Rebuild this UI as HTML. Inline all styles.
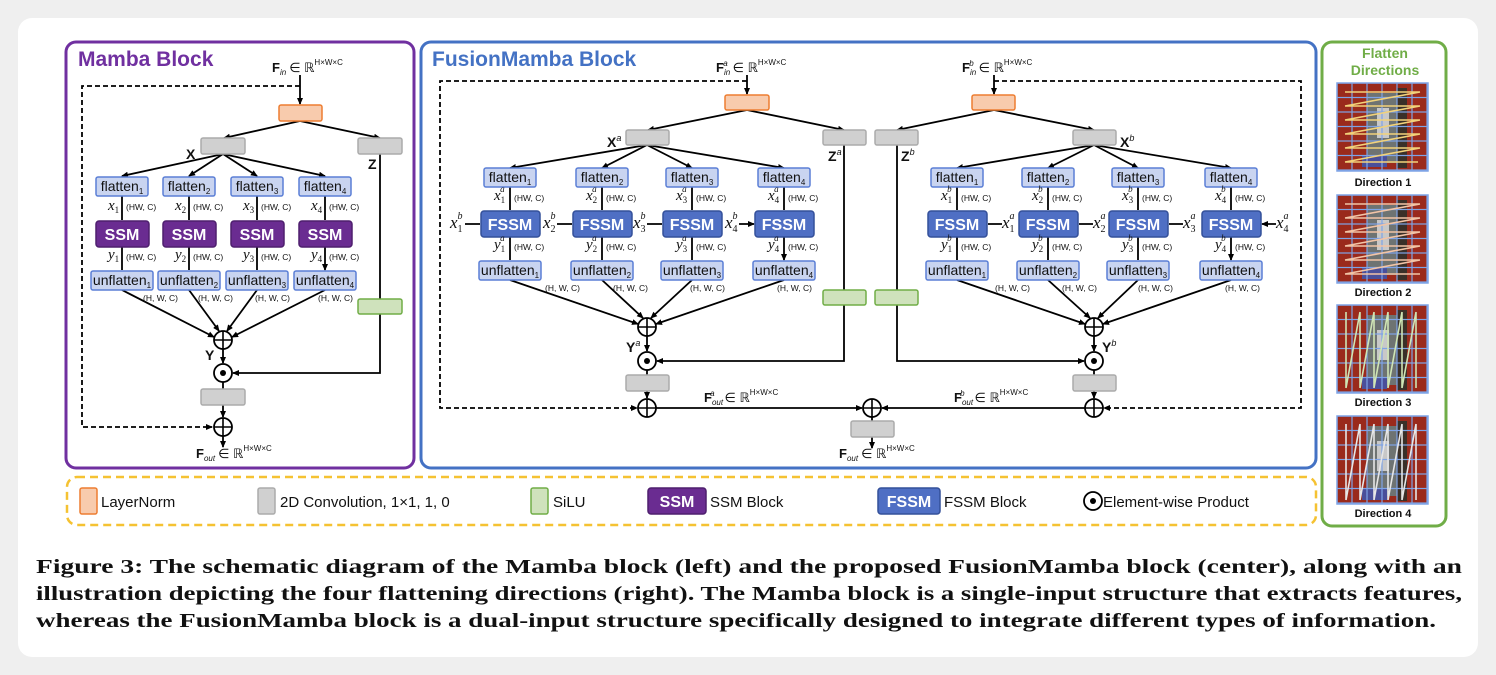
<!DOCTYPE html>
<html><head><meta charset="utf-8"><style>
html,body{margin:0;padding:0;background:#efefef;}
svg{display:block;}
.t{font-family:"Liberation Sans",sans-serif;}
.s{font-family:"Liberation Serif",serif;}
</style></head><body>
<svg width="1496" height="675" viewBox="0 0 1496 675" xmlns="http://www.w3.org/2000/svg">
<defs>
<marker id="a" markerWidth="8" markerHeight="8" refX="6" refY="3" orient="auto" markerUnits="userSpaceOnUse"><path d="M0,0 L7,3 L0,6 z" fill="#000"/></marker>
<g id="plus"><circle r="9" fill="#fff" stroke="#000" stroke-width="1.8"/><path d="M-9,0H9M0,-9V9" stroke="#000" stroke-width="1.6"/></g>
<g id="dot"><circle r="9" fill="#fff" stroke="#000" stroke-width="1.8"/><circle r="3" fill="#000"/></g>
<pattern id="grid" width="15" height="14.5" patternUnits="userSpaceOnUse"><rect width="15" height="14.5" fill="none" stroke="#7ea3e6" stroke-width="1.2"/></pattern>
<g id="img"><rect width="91" height="88" fill="#9a2a1c"/><rect x="30" y="10" width="30" height="70" fill="#6e7372"/><rect x="40" y="25" width="12" height="30" fill="#c8c8c8"/><rect x="25" y="72" width="25" height="12" fill="#4a4f9a"/><rect x="60" y="5" width="10" height="80" fill="#3a3028"/><rect width="91" height="88" fill="url(#grid)"/><rect width="91" height="88" fill="none" stroke="#7ea3e6" stroke-width="1.5"/></g>
</defs>
<rect x="18" y="18" width="1460" height="639" rx="14" fill="#fff"/>

<!-- panels -->
<rect x="66" y="42" width="348" height="426" rx="10" fill="none" stroke="#7030a0" stroke-width="3"/>
<rect x="421" y="42" width="895" height="426" rx="10" fill="none" stroke="#4472c4" stroke-width="3"/>
<rect x="1322" y="42" width="124" height="484" rx="10" fill="none" stroke="#70ad47" stroke-width="3"/>
<rect x="67" y="477" width="1249" height="48" rx="10" fill="none" stroke="#f5c232" stroke-width="2.5" stroke-dasharray="8,5"/>

<text x="78" y="66" class="t" font-size="21" font-weight="bold" fill="#7030a0">Mamba Block</text>
<text x="432" y="66" class="t" font-size="21" font-weight="bold" fill="#4472c4">FusionMamba Block</text>

<g stroke="#000" stroke-width="1.8" fill="none">
<!-- ===== Mamba ===== -->
<path d="M300,75V104" marker-end="url(#a)"/>
<path d="M300,86H82V427H212" stroke-dasharray="5,3" marker-end="url(#a)"/>
<path d="M300,121L224,138" marker-end="url(#a)"/><path d="M300,121L380,138" marker-end="url(#a)"/>
<path d="M223,154L122,176" marker-end="url(#a)"/><path d="M223,154L189,176" marker-end="url(#a)"/><path d="M223,154L257,176" marker-end="url(#a)"/><path d="M223,154L325,176" marker-end="url(#a)"/>
<path d="M122,196V220M189,196V220M257,196V220M325,196V220M122,247V270M189,247V270M257,247V270M325,247V270" marker-end="url(#a)"/>
<path d="M122,290L214,337" marker-end="url(#a)"/><path d="M189,290L219,331" marker-end="url(#a)"/><path d="M257,290L227,331" marker-end="url(#a)"/><path d="M325,290L232,337" marker-end="url(#a)"/>
<path d="M223,349V363" marker-end="url(#a)"/>
<path d="M380,154V373H233" marker-end="url(#a)"/>
<path d="M223,382V389M223,405V417" marker-end="url(#a)"/>
<path d="M223,436V447" marker-end="url(#a)"/>

<!-- ===== Fusion left ===== -->
<path d="M747,75V94" marker-end="url(#a)"/>
<path d="M747,81H440V408H637" stroke-dasharray="5,3" marker-end="url(#a)"/>
<path d="M747,110L648,130" marker-end="url(#a)"/><path d="M747,110L844,130" marker-end="url(#a)"/>
<path d="M647,145L510,168" marker-end="url(#a)"/><path d="M647,145L602,168" marker-end="url(#a)"/><path d="M647,145L692,168" marker-end="url(#a)"/><path d="M647,145L784,168" marker-end="url(#a)"/>
<path d="M510,187V210M602,187V210M692,187V210M784,187V210M510,237V260M602,237V260M692,237V260M784,237V260" marker-end="url(#a)"/>
<path d="M465,224H480M557,224H572M647,224H662M739,224H754" marker-end="url(#a)"/>
<path d="M510,280L638,324" marker-end="url(#a)"/><path d="M602,280L643,318" marker-end="url(#a)"/><path d="M692,280L651,318" marker-end="url(#a)"/><path d="M784,280L656,324" marker-end="url(#a)"/>
<path d="M647,336V351" marker-end="url(#a)"/>
<path d="M844,145V361H657" marker-end="url(#a)"/>
<path d="M647,370V375M647,391V398" marker-end="url(#a)"/>
<path d="M656,408H862" marker-end="url(#a)"/>
<path d="M872,417V421M872,437V448" marker-end="url(#a)"/>

<!-- ===== Fusion right ===== -->
<path d="M994,75V94" marker-end="url(#a)"/>
<path d="M994,81H1301V408H1104" stroke-dasharray="5,3" marker-end="url(#a)"/>
<path d="M994,110L897,130" marker-end="url(#a)"/><path d="M994,110L1094,130" marker-end="url(#a)"/>
<path d="M1094,145L957,168" marker-end="url(#a)"/><path d="M1094,145L1048,168" marker-end="url(#a)"/><path d="M1094,145L1138,168" marker-end="url(#a)"/><path d="M1094,145L1231,168" marker-end="url(#a)"/>
<path d="M957,187V210M1048,187V210M1138,187V210M1231,187V210M957,237V260M1048,237V260M1138,237V260M1231,237V260" marker-end="url(#a)"/>
<path d="M1002,224H988M1093,224H1079M1183,224H1169M1276,224H1262" marker-end="url(#a)"/>
<path d="M957,280L1085,324" marker-end="url(#a)"/><path d="M1048,280L1090,318" marker-end="url(#a)"/><path d="M1138,280L1098,318" marker-end="url(#a)"/><path d="M1231,280L1103,324" marker-end="url(#a)"/>
<path d="M1094,336V351" marker-end="url(#a)"/>
<path d="M897,145V361H1084" marker-end="url(#a)"/>
<path d="M1094,370V375M1094,391V398" marker-end="url(#a)"/>
<path d="M1085,408H882" marker-end="url(#a)"/>
</g>

<!-- boxes -->
<g stroke-width="1.5">
<g fill="#f8cbad" stroke="#ed7d31"><rect x="279" y="105" width="43" height="16" rx="2"/><rect x="725" y="95" width="44" height="15" rx="2"/><rect x="972" y="95" width="43" height="15" rx="2"/><rect x="80" y="488" width="17" height="26" rx="2"/></g>
<g fill="#d0d0d0" stroke="#ababab"><rect x="201" y="138" width="44" height="16" rx="2"/><rect x="358" y="138" width="44" height="16" rx="2"/><rect x="201" y="389" width="44" height="16" rx="2"/>
<rect x="626" y="130" width="43" height="15" rx="2"/><rect x="823" y="130" width="43" height="15" rx="2"/><rect x="626" y="375" width="43" height="16" rx="2"/><rect x="851" y="421" width="43" height="16" rx="2"/>
<rect x="875" y="130" width="43" height="15" rx="2"/><rect x="1073" y="130" width="43" height="15" rx="2"/><rect x="1073" y="375" width="43" height="16" rx="2"/><rect x="258" y="488" width="17" height="26" rx="2"/></g>
<g fill="#cfe2bc" stroke="#70ad47"><rect x="358" y="299" width="44" height="15" rx="2"/><rect x="823" y="290" width="43" height="15" rx="2"/><rect x="875" y="290" width="43" height="15" rx="2"/><rect x="531" y="488" width="17" height="26" rx="2"/></g>
<g fill="#c9d4f0" stroke="#5b7fd6">
<rect x="96" y="177" width="52" height="19" rx="2"/><rect x="163" y="177" width="52" height="19" rx="2"/><rect x="231" y="177" width="52" height="19" rx="2"/><rect x="299" y="177" width="52" height="19" rx="2"/>
<rect x="91" y="271" width="62" height="19" rx="2"/><rect x="158" y="271" width="62" height="19" rx="2"/><rect x="226" y="271" width="62" height="19" rx="2"/><rect x="294" y="271" width="62" height="19" rx="2"/>
<rect x="484" y="168" width="52" height="19" rx="2"/><rect x="576" y="168" width="52" height="19" rx="2"/><rect x="666" y="168" width="52" height="19" rx="2"/><rect x="758" y="168" width="52" height="19" rx="2"/>
<rect x="479" y="261" width="62" height="19" rx="2"/><rect x="571" y="261" width="62" height="19" rx="2"/><rect x="661" y="261" width="62" height="19" rx="2"/><rect x="753" y="261" width="62" height="19" rx="2"/>
<rect x="931" y="168" width="52" height="19" rx="2"/><rect x="1022" y="168" width="52" height="19" rx="2"/><rect x="1112" y="168" width="52" height="19" rx="2"/><rect x="1205" y="168" width="52" height="19" rx="2"/>
<rect x="926" y="261" width="62" height="19" rx="2"/><rect x="1017" y="261" width="62" height="19" rx="2"/><rect x="1107" y="261" width="62" height="19" rx="2"/><rect x="1200" y="261" width="62" height="19" rx="2"/>
</g>
<g fill="#6a2c91" stroke="#4e1f6e"><rect x="96" y="221" width="53" height="26" rx="3"/><rect x="163" y="221" width="53" height="26" rx="3"/><rect x="231" y="221" width="53" height="26" rx="3"/><rect x="299" y="221" width="53" height="26" rx="3"/><rect x="648" y="488" width="58" height="26" rx="3"/></g>
<g fill="#4f6fc4" stroke="#34509a"><rect x="481" y="211" width="59" height="26" rx="3"/><rect x="573" y="211" width="59" height="26" rx="3"/><rect x="663" y="211" width="59" height="26" rx="3"/><rect x="755" y="211" width="59" height="26" rx="3"/>
<rect x="928" y="211" width="59" height="26" rx="3"/><rect x="1019" y="211" width="59" height="26" rx="3"/><rect x="1109" y="211" width="59" height="26" rx="3"/><rect x="1202" y="211" width="59" height="26" rx="3"/><rect x="878" y="488" width="62" height="26" rx="3"/></g>
</g>

<use href="#plus" x="223" y="340"/><use href="#dot" x="223" y="373"/><use href="#plus" x="223" y="427"/>
<use href="#plus" x="647" y="327"/><use href="#dot" x="647" y="361"/><use href="#plus" x="647" y="408"/>
<use href="#plus" x="1094" y="327"/><use href="#dot" x="1094" y="361"/><use href="#plus" x="1094" y="408"/>
<use href="#plus" x="872" y="408"/>
<use href="#dot" x="1093" y="501"/>

<!-- box texts -->
<g class="t" font-size="14" text-anchor="middle" fill="#111">
<text x="122" y="191">flatten<tspan font-size="8" dy="3">1</tspan></text><text x="189" y="191">flatten<tspan font-size="8" dy="3">2</tspan></text><text x="257" y="191">flatten<tspan font-size="8" dy="3">3</tspan></text><text x="325" y="191">flatten<tspan font-size="8" dy="3">4</tspan></text>
<text x="122" y="285">unflatten<tspan font-size="8" dy="3">1</tspan></text><text x="189" y="285">unflatten<tspan font-size="8" dy="3">2</tspan></text><text x="257" y="285">unflatten<tspan font-size="8" dy="3">3</tspan></text><text x="325" y="285">unflatten<tspan font-size="8" dy="3">4</tspan></text>
<text x="510" y="182">flatten<tspan font-size="8" dy="3">1</tspan></text><text x="602" y="182">flatten<tspan font-size="8" dy="3">2</tspan></text><text x="692" y="182">flatten<tspan font-size="8" dy="3">3</tspan></text><text x="784" y="182">flatten<tspan font-size="8" dy="3">4</tspan></text>
<text x="510" y="275">unflatten<tspan font-size="8" dy="3">1</tspan></text><text x="602" y="275">unflatten<tspan font-size="8" dy="3">2</tspan></text><text x="692" y="275">unflatten<tspan font-size="8" dy="3">3</tspan></text><text x="784" y="275">unflatten<tspan font-size="8" dy="3">4</tspan></text>
<text x="957" y="182">flatten<tspan font-size="8" dy="3">1</tspan></text><text x="1048" y="182">flatten<tspan font-size="8" dy="3">2</tspan></text><text x="1138" y="182">flatten<tspan font-size="8" dy="3">3</tspan></text><text x="1231" y="182">flatten<tspan font-size="8" dy="3">4</tspan></text>
<text x="957" y="275">unflatten<tspan font-size="8" dy="3">1</tspan></text><text x="1048" y="275">unflatten<tspan font-size="8" dy="3">2</tspan></text><text x="1138" y="275">unflatten<tspan font-size="8" dy="3">3</tspan></text><text x="1231" y="275">unflatten<tspan font-size="8" dy="3">4</tspan></text>
</g>
<g class="t" font-size="16" font-weight="bold" text-anchor="middle" fill="#fff">
<text x="122" y="240">SSM</text><text x="189" y="240">SSM</text><text x="257" y="240">SSM</text><text x="325" y="240">SSM</text><text x="677" y="507">SSM</text>
<text x="510" y="230">FSSM</text><text x="602" y="230">FSSM</text><text x="692" y="230">FSSM</text><text x="784" y="230">FSSM</text>
<text x="957" y="230">FSSM</text><text x="1048" y="230">FSSM</text><text x="1138" y="230">FSSM</text><text x="1231" y="230">FSSM</text><text x="909" y="507">FSSM</text>
</g>

<!-- small labels -->
<g class="t" font-size="8.5" fill="#111">
<text x="126" y="210">(HW, C)</text><text x="193" y="210">(HW, C)</text><text x="261" y="210">(HW, C)</text><text x="329" y="210">(HW, C)</text>
<text x="126" y="260">(HW, C)</text><text x="193" y="260">(HW, C)</text><text x="261" y="260">(HW, C)</text><text x="329" y="260">(HW, C)</text>
<text x="143" y="301">(H, W, C)</text><text x="198" y="301">(H, W, C)</text><text x="255" y="301">(H, W, C)</text><text x="318" y="301">(H, W, C)</text>
<text x="514" y="201">(HW, C)</text><text x="606" y="201">(HW, C)</text><text x="696" y="201">(HW, C)</text><text x="788" y="201">(HW, C)</text>
<text x="514" y="250">(HW, C)</text><text x="606" y="250">(HW, C)</text><text x="696" y="250">(HW, C)</text><text x="788" y="250">(HW, C)</text>
<text x="545" y="291">(H, W, C)</text><text x="613" y="291">(H, W, C)</text><text x="690" y="291">(H, W, C)</text><text x="777" y="291">(H, W, C)</text>
<text x="961" y="201">(HW, C)</text><text x="1052" y="201">(HW, C)</text><text x="1142" y="201">(HW, C)</text><text x="1235" y="201">(HW, C)</text>
<text x="961" y="250">(HW, C)</text><text x="1052" y="250">(HW, C)</text><text x="1142" y="250">(HW, C)</text><text x="1235" y="250">(HW, C)</text>
<text x="995" y="291">(H, W, C)</text><text x="1062" y="291">(H, W, C)</text><text x="1138" y="291">(H, W, C)</text><text x="1225" y="291">(H, W, C)</text>
</g>

<!-- italic math labels -->
<g class="s" font-size="15" font-style="italic" fill="#111">
<text x="108" y="210">x<tspan font-size="9" font-style="normal" dy="3">1</tspan></text><text x="175" y="210">x<tspan font-size="9" font-style="normal" dy="3">2</tspan></text><text x="243" y="210">x<tspan font-size="9" font-style="normal" dy="3">3</tspan></text><text x="311" y="210">x<tspan font-size="9" font-style="normal" dy="3">4</tspan></text>
<text x="108" y="259">y<tspan font-size="9" font-style="normal" dy="3">1</tspan></text><text x="175" y="259">y<tspan font-size="9" font-style="normal" dy="3">2</tspan></text><text x="243" y="259">y<tspan font-size="9" font-style="normal" dy="3">3</tspan></text><text x="311" y="259">y<tspan font-size="9" font-style="normal" dy="3">4</tspan></text>
<!-- fusion left xa, ya -->
<text x="494" y="200">x<tspan font-size="9" font-style="normal" dy="3">1</tspan><tspan font-size="9" dx="-5" dy="-11">a</tspan></text>
<text x="586" y="200">x<tspan font-size="9" font-style="normal" dy="3">2</tspan><tspan font-size="9" dx="-5" dy="-11">a</tspan></text>
<text x="676" y="200">x<tspan font-size="9" font-style="normal" dy="3">3</tspan><tspan font-size="9" dx="-5" dy="-11">a</tspan></text>
<text x="768" y="200">x<tspan font-size="9" font-style="normal" dy="3">4</tspan><tspan font-size="9" dx="-5" dy="-11">a</tspan></text>
<text x="494" y="249">y<tspan font-size="9" font-style="normal" dy="3">1</tspan><tspan font-size="9" dx="-5" dy="-11">a</tspan></text>
<text x="586" y="249">y<tspan font-size="9" font-style="normal" dy="3">2</tspan><tspan font-size="9" dx="-5" dy="-11">a</tspan></text>
<text x="676" y="249">y<tspan font-size="9" font-style="normal" dy="3">3</tspan><tspan font-size="9" dx="-5" dy="-11">a</tspan></text>
<text x="768" y="249">y<tspan font-size="9" font-style="normal" dy="3">4</tspan><tspan font-size="9" dx="-5" dy="-11">a</tspan></text>
<text x="450" y="228" font-size="17">x<tspan font-size="10" font-style="normal" dy="4">1</tspan><tspan font-size="10" dx="-5" dy="-13">b</tspan></text>
<text x="543" y="228" font-size="17">x<tspan font-size="10" font-style="normal" dy="4">2</tspan><tspan font-size="10" dx="-5" dy="-13">b</tspan></text>
<text x="633" y="228" font-size="17">x<tspan font-size="10" font-style="normal" dy="4">3</tspan><tspan font-size="10" dx="-5" dy="-13">b</tspan></text>
<text x="725" y="228" font-size="17">x<tspan font-size="10" font-style="normal" dy="4">4</tspan><tspan font-size="10" dx="-5" dy="-13">b</tspan></text>
<!-- fusion right -->
<text x="941" y="200">x<tspan font-size="9" font-style="normal" dy="3">1</tspan><tspan font-size="9" dx="-5" dy="-11">b</tspan></text>
<text x="1032" y="200">x<tspan font-size="9" font-style="normal" dy="3">2</tspan><tspan font-size="9" dx="-5" dy="-11">b</tspan></text>
<text x="1122" y="200">x<tspan font-size="9" font-style="normal" dy="3">3</tspan><tspan font-size="9" dx="-5" dy="-11">b</tspan></text>
<text x="1215" y="200">x<tspan font-size="9" font-style="normal" dy="3">4</tspan><tspan font-size="9" dx="-5" dy="-11">b</tspan></text>
<text x="941" y="249">y<tspan font-size="9" font-style="normal" dy="3">1</tspan><tspan font-size="9" dx="-5" dy="-11">b</tspan></text>
<text x="1032" y="249">y<tspan font-size="9" font-style="normal" dy="3">2</tspan><tspan font-size="9" dx="-5" dy="-11">b</tspan></text>
<text x="1122" y="249">y<tspan font-size="9" font-style="normal" dy="3">3</tspan><tspan font-size="9" dx="-5" dy="-11">b</tspan></text>
<text x="1215" y="249">y<tspan font-size="9" font-style="normal" dy="3">4</tspan><tspan font-size="9" dx="-5" dy="-11">b</tspan></text>
<text x="1002" y="228" font-size="17">x<tspan font-size="10" font-style="normal" dy="4">1</tspan><tspan font-size="10" dx="-5" dy="-13">a</tspan></text>
<text x="1093" y="228" font-size="17">x<tspan font-size="10" font-style="normal" dy="4">2</tspan><tspan font-size="10" dx="-5" dy="-13">a</tspan></text>
<text x="1183" y="228" font-size="17">x<tspan font-size="10" font-style="normal" dy="4">3</tspan><tspan font-size="10" dx="-5" dy="-13">a</tspan></text>
<text x="1276" y="228" font-size="17">x<tspan font-size="10" font-style="normal" dy="4">4</tspan><tspan font-size="10" dx="-5" dy="-13">a</tspan></text>
</g>

<!-- bold letters -->
<g class="t" font-size="14" font-weight="bold" fill="#111">
<text x="186" y="159">X</text><text x="368" y="169">Z</text><text x="205" y="360">Y</text>
<text x="607" y="147">X<tspan font-size="9" font-weight="normal" font-style="italic" dy="-6">a</tspan></text>
<text x="828" y="161">Z<tspan font-size="9" font-weight="normal" font-style="italic" dy="-6">a</tspan></text>
<text x="626" y="352">Y<tspan font-size="9" font-weight="normal" font-style="italic" dy="-6">a</tspan></text>
<text x="1120" y="147">X<tspan font-size="9" font-weight="normal" font-style="italic" dy="-6">b</tspan></text>
<text x="901" y="161">Z<tspan font-size="9" font-weight="normal" font-style="italic" dy="-6">b</tspan></text>
<text x="1102" y="352">Y<tspan font-size="9" font-weight="normal" font-style="italic" dy="-6">b</tspan></text>
</g>

<!-- F labels -->
<g class="t" fill="#111">
<text x="272" y="72" font-size="13" font-weight="bold">F<tspan font-size="8" font-weight="normal" font-style="italic" dy="3">in</tspan><tspan font-size="13" font-weight="normal" dx="3" dy="-3">∈ ℝ</tspan><tspan font-size="8" font-weight="normal" dy="-7">H×W×C</tspan></text>
<text x="716" y="72" font-size="13" font-weight="bold">F<tspan font-size="8" font-weight="normal" font-style="italic" dy="3">in</tspan><tspan font-size="8" font-weight="normal" font-style="italic" dx="-7" dy="-9">a</tspan><tspan font-size="13" font-weight="normal" dx="5" dy="6">∈ ℝ</tspan><tspan font-size="8" font-weight="normal" dy="-7">H×W×C</tspan></text>
<text x="962" y="72" font-size="13" font-weight="bold">F<tspan font-size="8" font-weight="normal" font-style="italic" dy="3">in</tspan><tspan font-size="8" font-weight="normal" font-style="italic" dx="-7" dy="-9">b</tspan><tspan font-size="13" font-weight="normal" dx="5" dy="6">∈ ℝ</tspan><tspan font-size="8" font-weight="normal" dy="-7">H×W×C</tspan></text>
<text x="196" y="458" font-size="13" font-weight="bold">F<tspan font-size="8" font-weight="normal" font-style="italic" dy="3">out</tspan><tspan font-size="13" font-weight="normal" dx="3" dy="-3">∈ ℝ</tspan><tspan font-size="8" font-weight="normal" dy="-7">H×W×C</tspan></text>
<text x="839" y="458" font-size="13" font-weight="bold">F<tspan font-size="8" font-weight="normal" font-style="italic" dy="3">out</tspan><tspan font-size="13" font-weight="normal" dx="3" dy="-3">∈ ℝ</tspan><tspan font-size="8" font-weight="normal" dy="-7">H×W×C</tspan></text>
<text x="704" y="402" font-size="13" font-weight="bold">F<tspan font-size="8" font-weight="normal" font-style="italic" dy="3">out</tspan><tspan font-size="8" font-weight="normal" font-style="italic" dx="-13" dy="-9">a</tspan><tspan font-size="13" font-weight="normal" dx="10" dy="6">∈ ℝ</tspan><tspan font-size="8" font-weight="normal" dy="-7">H×W×C</tspan></text>
<text x="954" y="402" font-size="13" font-weight="bold">F<tspan font-size="8" font-weight="normal" font-style="italic" dy="3">out</tspan><tspan font-size="8" font-weight="normal" font-style="italic" dx="-13" dy="-9">b</tspan><tspan font-size="13" font-weight="normal" dx="10" dy="6">∈ ℝ</tspan><tspan font-size="8" font-weight="normal" dy="-7">H×W×C</tspan></text>
</g>

<!-- legend -->
<g class="t" font-size="15" fill="#111">
<text x="101" y="507">LayerNorm</text>
<text x="280" y="507">2D Convolution, 1×1, 1, 0</text>
<text x="553" y="507">SiLU</text>
<text x="710" y="507">SSM Block</text>
<text x="944" y="507">FSSM Block</text>
<text x="1103" y="507">Element-wise Product</text>
</g>

<!-- flatten directions -->
<g class="t" font-weight="bold" text-anchor="middle">
<text x="1385" y="58" font-size="14" fill="#70ad47">Flatten</text>
<text x="1385" y="75" font-size="14" fill="#70ad47">Directions</text>
<text x="1383" y="186" font-size="11" fill="#111">Direction 1</text>
<text x="1383" y="296" font-size="11" fill="#111">Direction 2</text>
<text x="1383" y="406" font-size="11" fill="#111">Direction 3</text>
<text x="1383" y="517" font-size="11" fill="#111">Direction 4</text>
</g>
<use href="#img" x="1337" y="83"/><use href="#img" x="1337" y="195"/><use href="#img" x="1337" y="305"/><use href="#img" x="1337" y="416"/>
<g fill="none" stroke-width="1.6">
<path d="M1345,92H1420M1420,92L1345,106M1345,106H1420M1420,106L1345,120M1345,120H1420M1420,120L1345,134M1345,134H1420M1420,134L1345,148M1345,148H1420M1420,148L1345,162M1345,162H1418" stroke="#f2d27a"/>
<path d="M1345,204H1420M1420,204L1345,218M1345,218H1420M1420,218L1345,232M1345,232H1420M1420,232L1345,246M1345,246H1420M1420,246L1345,260M1345,260H1420M1420,260L1345,274M1345,274H1420" stroke="#f2c4a6"/>
<path d="M1346,312V388M1346,388L1360,312M1360,312V388M1360,388L1374,312M1374,312V388M1374,388L1388,312M1388,312V388M1388,388L1402,312M1402,312V388M1402,388L1416,312M1416,312V388" stroke="#cfe5b5"/>
<path d="M1346,424V500M1346,500L1360,424M1360,424V500M1360,500L1374,424M1374,424V500M1374,500L1388,424M1388,424V500M1388,500L1402,424M1402,424V500M1402,500L1416,424M1416,424V500" stroke="#e6e6e6"/>
</g>

<!-- caption -->
<g class="s" font-size="19.5" font-weight="bold" fill="#111">
<text x="36" y="573" textLength="1426" lengthAdjust="spacingAndGlyphs">Figure 3: The schematic diagram of the Mamba block (left) and the proposed FusionMamba block (center), along with an</text>
<text x="36" y="600" textLength="1426" lengthAdjust="spacingAndGlyphs">illustration depicting the four flattening directions (right). The Mamba block is a single-input structure that extracts features,</text>
<text x="36" y="627" textLength="1400" lengthAdjust="spacingAndGlyphs">whereas the FusionMamba block is a dual-input structure specifically designed to integrate different types of information.</text>
</g>
</svg>
</body></html>
